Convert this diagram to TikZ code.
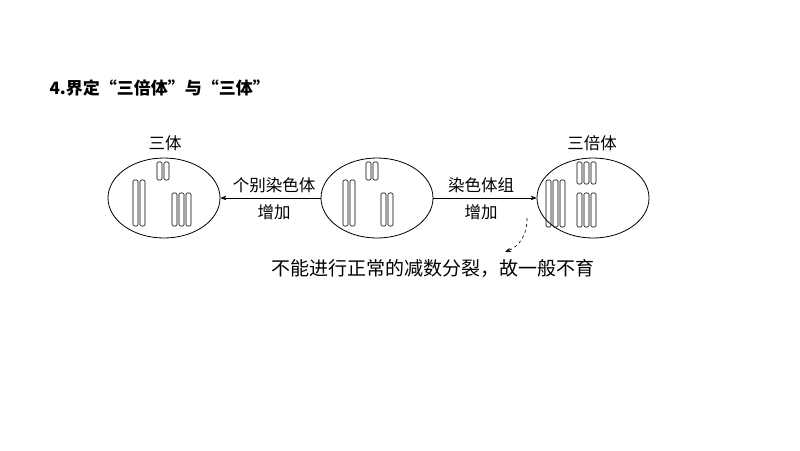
\documentclass[tikz,border=0pt]{standalone}
\usepackage{fontspec}
\newfontfamily\cjk{Noto Sans CJK SC}
\newfontfamily\cjks{Noto Serif CJK SC}
\usetikzlibrary{arrows.meta,shapes.geometric}
\begin{document}
\begin{tikzpicture}[x=1pt,y=-1pt,
  cell/.style={draw,ellipse,minimum width=112pt,minimum height=80pt,line width=0.8pt},
  chr/.style={draw,rounded corners=1.2pt,line width=0.6pt},
  lbl/.style={font=\cjk\fontsize{16.5}{18}\selectfont},
  arr/.style={-{Stealth[length=6pt]},line width=0.6pt}]
\useasboundingbox[fill=white] (0,0) rectangle (800,450);
\node[font=\cjk\bfseries\fontsize{17}{19}\selectfont,anchor=west] (title) at (46,88) {4.界定“三倍体”与“三体”};
\node[cell] (e1) at (164,198) {};
\node[cell] (e2) at (377,198) {};
\node[cell] (e3) at (593,198) {};
\node[lbl] (l1) at (165,143) {三体};
\node[lbl] (l3) at (592,143) {三倍体};
% chromosomes e1
\foreach \x in {133,140}{\draw[chr] (\x,180) rectangle ++(5,46);}
\foreach \x in {157,164}{\draw[chr] (\x,162) rectangle ++(5,18);}
\foreach \x in {172,179,186}{\draw[chr] (\x,193) rectangle ++(5,33);}
% e2
\foreach \x in {343,350}{\draw[chr] (\x,180) rectangle ++(5,46);}
\foreach \x in {366,373}{\draw[chr] (\x,162) rectangle ++(5,18);}
\foreach \x in {381,388}{\draw[chr] (\x,193) rectangle ++(5,33);}
% e3
\foreach \x in {546,553,560}{\draw[chr] (\x,180) rectangle ++(5,47);}
\foreach \x in {577,584,591}{\draw[chr] (\x,162) rectangle ++(5,22);}
\foreach \x in {577,584,591}{\draw[chr] (\x,193) rectangle ++(5,34);}
\draw[arr] (e2.west) -- (e1.east);
\draw[arr] (e2.east) -- (e3.west);
\node[lbl] (a1) at (274,185) {个别染色体};
\node[lbl] (a2) at (274,212) {增加};
\node[lbl] (b1) at (481,185) {染色体组};
\node[lbl] (b2) at (481,212) {增加};
\coordinate (ds) at (527,218);
\coordinate (de) at (505,252);
\node[font=\cjk\fontsize{19}{21}\selectfont,anchor=west] (note) at (268,268) {不能进行正常的减数分裂，故一般不育};
\draw[-{Stealth[length=6pt]},dashed,line width=0.6pt] (ds) to[bend left=35] (de);
\end{tikzpicture}
\end{document}
